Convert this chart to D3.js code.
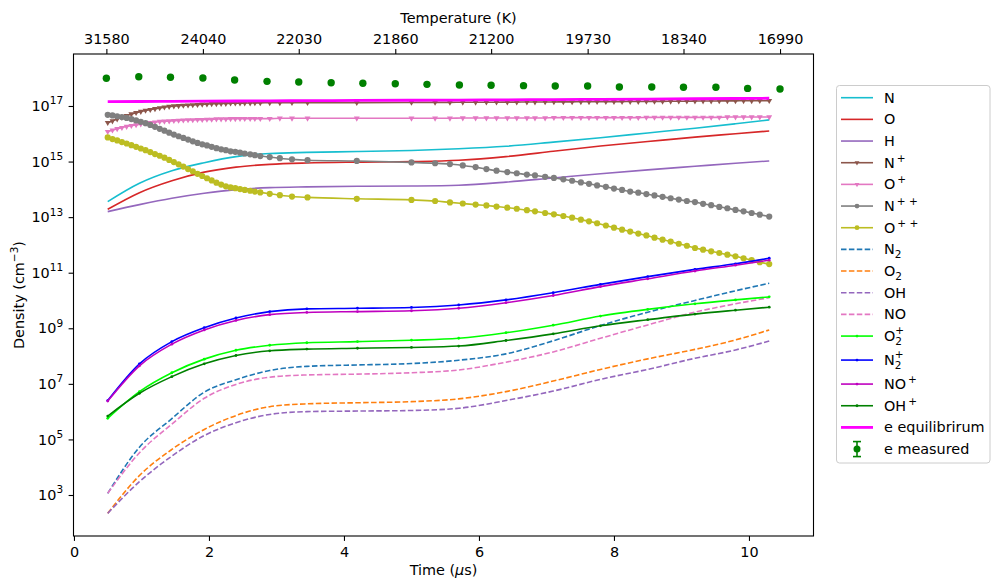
<!DOCTYPE html>
<html><head><meta charset="utf-8">
<script src="https://cdn.jsdelivr.net/npm/d3@7"></script>
<style>body{margin:0;background:#fff} svg text{font-family:"DejaVu Sans",sans-serif;fill:#000}</style>
</head><body><svg id="c" width="991" height="578"></svg>
<script>
// ---------------- DATA ----------------
const xTicks = [0, 2, 4, 6, 8, 10];
const yTickExponents = [3, 5, 7, 9, 11, 13, 15, 17];
const tempTickLabels = ["31580", "24040", "22030", "21860", "21200", "19730", "18340", "16990"];

// simulation output times (us), adaptive steps (marker positions)
const timeFine = [0.5,0.57,0.64,0.71,0.78,0.85,0.92,0.99,1.06,1.13,1.2,1.27,1.34,1.41,1.48,1.55,1.62,1.69,1.76,1.83,1.9,1.97,2.04,2.11,2.18,2.25,2.32,2.39,
  2.46,2.53,2.61,2.68,2.76,2.9,3.05,3.23,3.46,4.19,5.0,5.35,5.57,5.76,5.95,6.11,6.26,6.42,6.56,6.71,6.83,6.98,7.11,7.25,7.38,7.51,7.63,7.75,7.88,8.0,8.12,
  8.24,8.36,8.48,8.6,8.72,8.84,8.96,9.08,9.2,9.32,9.44,9.56,9.68,9.8,9.92,10.04,10.16,10.3];
// coarser readings of the other curves
const timeCoarse = [0.5,0.97,1.45,1.93,2.4,2.9,3.45,4.2,5.0,5.7,6.4,7.1,7.8,8.5,9.2,9.8,10.3];

const densNplus = [2.51e16,2.88e16,3.39e16,3.89e16,4.47e16,5.13e16,5.75e16,6.31e16,6.92e16,7.41e16,7.94e16,8.51e16,9.12e16,9.55e16,1.0e17,1.02e17,1.05e17,1.07e17,1.10e17,1.12e17,1.15e17,1.17e17,1.20e17,1.20e17,1.23e17,1.23e17,1.26e17,1.26e17,
  1.26e17,1.28e17,1.28e17,1.29e17,1.29e17,1.31e17,1.31e17,1.32e17,1.32e17,1.32e17,1.34e17,1.35e17,1.35e17,1.36e17,1.36e17,1.37e17,1.37e17,1.38e17,1.38e17,1.39e17,1.39e17,1.40e17,1.40e17,
  1.41e17,1.41e17,1.42e17,1.42e17,1.43e17,1.43e17,1.44e17,1.44e17,1.45e17,1.45e17,1.46e17,1.47e17,1.47e17,1.48e17,1.49e17,1.49e17,1.50e17,1.51e17,1.51e17,1.52e17,1.53e17,1.53e17,1.54e17,1.54e17,1.55e17,1.55e17];
const densOplus = [1.20e16,1.35e16,1.51e16,1.66e16,1.82e16,1.95e16,2.09e16,2.24e16,2.40e16,2.51e16,2.63e16,2.75e16,2.82e16,2.88e16,2.95e16,3.02e16,3.09e16,3.16e16,3.16e16,3.24e16,3.24e16,3.31e16,3.31e16,3.39e16,3.39e16,3.39e16,3.47e16,3.47e16,
  3.5e16,3.5e16,3.5e16,3.5e16,3.5e16,3.5e16,3.6e16,3.6e16,3.6e16,3.6e16,3.6e16,3.6e16,3.6e16,3.7e16,3.7e16,3.7e16,3.7e16,3.7e16,3.7e16,3.7e16,3.7e16,3.7e16,3.8e16,
  3.8e16,3.8e16,3.8e16,3.8e16,3.8e16,3.8e16,3.8e16,3.8e16,3.8e16,3.8e16,3.9e16,3.9e16,3.9e16,3.9e16,3.9e16,3.9e16,3.9e16,3.9e16,3.9e16,3.9e16,4.0e16,4.0e16,4.0e16,4.0e16,4.0e16,4.0e16];
const densNpp = [4.79e16,4.57e16,4.27e16,3.98e16,3.72e16,3.39e16,3.02e16,2.69e16,2.40e16,2.09e16,1.78e16,1.51e16,1.29e16,1.10e16,9.33e15,8.13e15,7.08e15,6.17e15,5.37e15,4.68e15,4.17e15,3.80e15,3.39e15,3.02e15,2.75e15,2.57e15,2.34e15,2.24e15,
  2.09e15,1.95e15,1.82e15,1.70e15,1.58e15,1.45e15,1.32e15,1.20e15,1.12e15,1.05e15,9.33e14,8.71e14,8.13e14,7.24e14,6.31e14,5.37e14,4.68e14,4.17e14,3.80e14,3.39e14,3.16e14,2.82e14,2.57e14,
  2.29e14,2.04e14,1.78e14,1.58e14,1.38e14,1.23e14,1.07e14,9.55e13,8.32e13,7.59e13,6.76e13,6.03e13,5.37e13,4.79e13,4.27e13,3.80e13,3.47e13,3.02e13,2.69e13,2.34e13,2.09e13,1.82e13,1.62e13,1.41e13,1.23e13,1.05e13];
const densOpp = [7.41e15,6.46e15,5.75e15,5.01e15,4.47e15,3.89e15,3.39e15,2.95e15,2.57e15,2.19e15,1.86e15,1.62e15,1.38e15,1.15e15,9.55e14,7.94e14,6.61e14,5.37e14,4.47e14,3.63e14,3.02e14,2.51e14,2.09e14,1.74e14,1.48e14,1.29e14,1.17e14,1.10e14,
  1.02e14,9.55e13,8.91e13,8.32e13,7.76e13,6.92e13,6.17e13,5.50e13,5.13e13,4.57e13,4.17e13,3.80e13,3.39e13,3.09e13,2.82e13,2.63e13,2.40e13,2.19e13,2.00e13,1.78e13,1.62e13,1.41e13,1.26e13,
  1.10e13,9.55e12,8.13e12,7.08e12,6.03e12,5.01e12,4.17e12,3.55e12,3.02e12,2.57e12,2.19e12,1.82e12,1.55e12,1.32e12,1.10e12,9.33e11,7.76e11,6.76e11,5.89e11,5.13e11,4.47e11,3.89e11,3.31e11,2.82e11,2.40e11,2.04e11];

const densN   = [3.63e13,1.66e14,4.68e14,9.12e14,1.51e15,1.95e15,2.14e15,2.29e15,2.51e15,2.88e15,3.55e15,5.01e15,7.24e15,1.07e16,1.58e16,2.29e16,3.16e16];
const densO   = [1.91e13,7.59e13,2.04e14,4.17e14,6.31e14,7.94e14,8.91e14,9.55e14,1.0e15,1.12e15,1.51e15,2.34e15,3.63e15,5.25e15,7.59e15,1.0e16,1.26e16];
const densH   = [1.58e13,2.82e13,4.79e13,7.24e13,9.77e13,1.15e14,1.23e14,1.29e14,1.32e14,1.41e14,1.82e14,2.57e14,3.63e14,5.01e14,6.76e14,8.71e14,1.05e15];
const densN2  = [1.15e3,5.25e4,5.62e5,5.01e6,1.41e7,3.02e7,4.27e7,4.79e7,5.37e7,7.08e7,1.20e8,3.55e8,1.26e9,3.80e9,1.0e10,2.24e10,4.17e10];
const densO2  = [2.19e2,5.01e3,4.37e4,2.29e5,7.24e5,1.51e6,1.91e6,2.09e6,2.29e6,2.88e6,5.25e6,1.26e7,3.31e7,7.94e7,1.74e8,3.80e8,8.71e8];
const densOH  = [2.19e2,3.02e3,2.51e4,1.38e5,3.98e5,7.94e5,1.0e6,1.05e6,1.10e6,1.32e6,2.51e6,5.50e6,1.45e7,3.31e7,8.32e7,1.66e8,3.47e8];
const densNO  = [1.15e3,3.31e4,3.55e5,3.02e6,9.55e6,1.74e7,2.09e7,2.24e7,2.51e7,3.16e7,6.03e7,1.41e8,4.37e8,1.32e9,3.80e9,7.59e9,1.26e10];
const densO2plus = [5.75e5,5.25e6,2.51e7,7.76e7,1.62e8,2.45e8,3.02e8,3.31e8,3.72e8,4.37e8,6.92e8,1.29e9,2.75e9,4.79e9,7.59e9,1.05e10,1.35e10];
const densN2plus = [2.51e6,5.25e7,3.31e8,1.05e9,2.34e9,3.98e9,5.01e9,5.25e9,5.62e9,6.92e9,1.05e10,1.91e10,3.80e10,7.24e10,1.32e11,2.09e11,3.31e11];
const densNOplus = [2.40e6,4.47e7,2.69e8,8.71e8,1.91e9,3.09e9,3.72e9,3.98e9,4.27e9,5.25e9,8.32e9,1.51e10,3.16e10,6.03e10,1.15e11,1.86e11,2.82e11];
const densOHplus = [6.92e5,4.57e6,1.82e7,5.25e7,1.05e8,1.55e8,1.78e8,1.91e8,2.04e8,2.29e8,3.63e8,6.31e8,1.23e9,2.04e9,3.24e9,4.47e9,5.75e9];
const densEeq = [1.43e17,1.45e17,1.47e17,1.49e17,1.51e17,1.53e17,1.55e17,1.58e17,1.61e17,1.63e17,1.67e17,1.70e17,1.74e17,1.78e17,1.82e17,1.86e17,1.9e17];

const measuredTime = [0.48,0.96,1.43,1.91,2.38,2.86,3.33,3.81,4.28,4.76,5.23,5.71,6.18,6.66,7.13,7.61,8.08,8.56,9.03,9.51,9.98,10.46];
const measuredDensity = [9.9e17,1.13e18,1.08e18,1.02e18,8.6e17,7.7e17,7.3e17,6.9e17,6.6e17,6.3e17,6.0e17,5.7e17,5.6e17,5.4e17,5.25e17,5.25e17,4.8e17,4.8e17,4.7e17,4.7e17,4.3e17,4.1e17];
const tempTickTimes = measuredTime.filter((d, i) => i % 3 === 0);

// ---------------- SERIES STYLES ----------------
const series = [
  {label:{base:"N"},                 t:timeCoarse, v:densN,  color:"#17becf"},
  {label:{base:"O"},                 t:timeCoarse, v:densO,  color:"#d62728"},
  {label:{base:"H"},                 t:timeCoarse, v:densH,  color:"#9467bd"},
  {label:{base:"N", sup:"+"},        t:timeFine, v:densNplus, color:"#8c564b", marker:"tri"},
  {label:{base:"O", sup:"+"},        t:timeFine, v:densOplus, color:"#e377c2", marker:"tri"},
  {label:{base:"N", sup:"+ +"},      t:timeFine, v:densNpp,  color:"#7f7f7f", marker:"circle"},
  {label:{base:"O", sup:"+ +"},      t:timeFine, v:densOpp,  color:"#bcbd22", marker:"circle"},
  {label:{base:"N", sub:"2"},        t:timeCoarse, v:densN2, color:"#1f77b4", dash:"5.5,2.4"},
  {label:{base:"O", sub:"2"},        t:timeCoarse, v:densO2, color:"#ff7f0e", dash:"5.5,2.4"},
  {label:{base:"OH"},                t:timeCoarse, v:densOH, color:"#9467bd", dash:"5.5,2.4"},
  {label:{base:"NO"},                t:timeCoarse, v:densNO, color:"#e377c2", dash:"5.5,2.4"},
  {label:{base:"O", sub:"2", sup:"+"}, t:timeCoarse, v:densO2plus, color:"#00ff00", marker:"dot"},
  {label:{base:"N", sub:"2", sup:"+"}, t:timeCoarse, v:densN2plus, color:"#0000ff", marker:"dot"},
  {label:{base:"NO", sup:"+"},       t:timeCoarse, v:densNOplus, color:"#bf00bf", marker:"dot"},
  {label:{base:"OH", sup:"+"},       t:timeCoarse, v:densOHplus, color:"#008000", marker:"dot"},
  {label:{base:"e equilibrirum"},    t:timeCoarse, v:densEeq, color:"#ff00ff", lw:2.8}
];

// ---------------- LAYOUT ----------------
const svg = d3.select("#c");
const X0 = 73.5, X1 = 813.5, Y0 = 54, Y1 = 536;
const FS = 14.4;
const x = d3.scaleLinear().domain([-0.007, 10.956]).range([X0, X1]);
const y = d3.scaleLog().domain([Math.pow(10, 1.5245), Math.pow(10, 18.871)]).range([Y1, Y0]);

svg.append("rect").attr("width", 991).attr("height", 578).attr("fill", "#fff");
svg.append("defs").append("clipPath").attr("id", "clip")
  .append("rect").attr("x", X0).attr("y", Y0).attr("width", X1 - X0).attr("height", Y1 - Y0);
const plot = svg.append("g").attr("clip-path", "url(#clip)");

const line = d3.line().curve(d3.curveMonotoneX);
const triPath = d3.symbol().type(d3.symbolTriangle).size(15)();

series.forEach(s => {
  const pts = s.t.map((t, i) => [x(t), y(s.v[i])]);
  plot.append("path").attr("d", line(pts)).attr("fill", "none")
    .attr("stroke", s.color).attr("stroke-width", s.lw || 1.6)
    .attr("stroke-dasharray", s.dash || null);
  if (s.marker === "circle") {
    plot.append("g").selectAll("circle").data(pts).join("circle")
      .attr("cx", d => d[0]).attr("cy", d => d[1]).attr("r", 3.1).attr("fill", s.color);
  } else if (s.marker === "tri") {
    plot.append("g").selectAll("path").data(pts).join("path")
      .attr("d", triPath).attr("transform", d => `translate(${d[0]},${d[1]}) rotate(180)`)
      .attr("fill", s.color);
  } else if (s.marker === "dot") {
    plot.append("g").selectAll("circle").data(pts).join("circle")
      .attr("cx", d => d[0]).attr("cy", d => d[1]).attr("r", 1.4).attr("fill", s.color);
  }
});

// measured electrons
plot.append("g").selectAll("circle").data(measuredTime).join("circle")
  .attr("cx", d => x(d)).attr("cy", (d, i) => y(measuredDensity[i])).attr("r", 3.7).attr("fill", "#008000");

// ---------------- AXES ----------------
function styleAxis(g) {
  g.select(".domain").remove();
  g.attr("font-family", null).attr("font-size", null);
  g.selectAll(".tick line").attr("stroke", "#000").attr("stroke-width", 1.1);
  g.selectAll(".tick text").attr("font-size", FS).attr("fill", "#000");
}
const gx = svg.append("g").attr("transform", `translate(0,${Y1})`)
  .call(d3.axisBottom(x).tickValues(xTicks).tickFormat(d3.format("d")).tickSize(4.9).tickPadding(5.5).tickSizeOuter(0));
styleAxis(gx);

const gt = svg.append("g").attr("transform", `translate(0,${Y0})`)
  .call(d3.axisTop(x).tickValues(tempTickTimes).tickFormat((d, i) => tempTickLabels[i]).tickSize(4.9).tickPadding(5.5).tickSizeOuter(0));
styleAxis(gt);

const gy = svg.append("g").attr("transform", `translate(${X0},0)`)
  .call(d3.axisLeft(y).tickValues(yTickExponents.map(e => Math.pow(10, e))).tickFormat(() => "").tickSize(4.9).tickPadding(5.5).tickSizeOuter(0));
styleAxis(gy);
gy.selectAll(".tick text").each(function(d) {
  const t = d3.select(this);
  t.text(null);
  t.append("tspan").text("10");
  t.append("tspan").attr("dy", -6.7).attr("font-size", 10.5).text(Math.round(Math.log10(d)));
});

// frame
svg.append("rect").attr("x", X0).attr("y", Y0).attr("width", X1 - X0).attr("height", Y1 - Y0)
  .attr("fill", "none").attr("stroke", "#000").attr("stroke-width", 1.1);

// axis titles
const xt = svg.append("text").attr("x", (X0 + X1) / 2).attr("y", 575).attr("text-anchor", "middle").attr("font-size", FS);
xt.append("tspan").text("Time (");
xt.append("tspan").attr("font-style", "italic").text("\u03bc");
xt.append("tspan").text("s)");

svg.append("text").attr("x", 458.5).attr("y", 23.3).attr("text-anchor", "middle").attr("font-size", FS).text("Temperature (K)");

const yt = svg.append("text").attr("transform", `translate(24,${(Y0 + Y1) / 2}) rotate(-90)`)
  .attr("text-anchor", "middle").attr("font-size", FS);
yt.append("tspan").text("Density (cm");
yt.append("tspan").attr("dy", -6).attr("font-size", 10.5).text("\u22123");
yt.append("tspan").attr("dy", 6).text(")");

// ---------------- LEGEND ----------------
const leg = svg.append("g");
leg.append("rect").attr("x", 836.5).attr("y", 85.5).attr("width", 153.5).attr("height", 377.5).attr("rx", 3)
  .attr("fill", "#fff").attr("fill-opacity", 0.8).attr("stroke", "#cccccc").attr("stroke-width", 1);

function addLabel(lab, lx, ly) {
  const t = leg.append("text").attr("x", lx).attr("y", ly).attr("font-size", FS);
  t.append("tspan").text(lab.base);
  if (lab.sub && lab.sup) {
    t.append("tspan").attr("font-size", 10.5).attr("dy", 3.5).text(lab.sub);
    t.append("tspan").attr("font-size", 10.5).attr("dx", -6.7).attr("dy", -10.5).text(lab.sup);
  } else if (lab.sub) {
    t.append("tspan").attr("font-size", 10.5).attr("dy", 3.5).text(lab.sub);
  } else if (lab.sup) {
    t.append("tspan").attr("font-size", 10.5).attr("dx", 2).attr("dy", -6.2).text(lab.sup);
  }
}

const legItems = series.map(s => s).concat([{label:{base:"e measured"}, errorbar:true, color:"#008000"}]);
let ly = 97.7;
legItems.forEach((it, i) => {
  if (i > 0) {
    const prev = legItems[i - 1].label;
    ly += 21.67 + (prev.sub && prev.sup ? 2.33 : 0);
  }
  if (it.errorbar) {
    leg.append("line").attr("x1", 857).attr("x2", 857).attr("y1", ly - 7.5).attr("y2", ly + 7.5).attr("stroke", it.color).attr("stroke-width", 1.6);
    [ly - 7.5, ly + 7.5].forEach(cy => leg.append("line").attr("x1", 853).attr("x2", 861).attr("y1", cy).attr("y2", cy).attr("stroke", it.color).attr("stroke-width", 1.6));
    leg.append("circle").attr("cx", 857).attr("cy", ly).attr("r", 3.5).attr("fill", it.color);
  } else {
    leg.append("line").attr("x1", 841).attr("x2", 873).attr("y1", ly).attr("y2", ly)
      .attr("stroke", it.color).attr("stroke-width", it.lw || 1.6).attr("stroke-dasharray", it.dash || null);
    if (it.marker === "circle") leg.append("circle").attr("cx", 857).attr("cy", ly).attr("r", 2.4).attr("fill", it.color);
    else if (it.marker === "tri") leg.append("path").attr("d", d3.symbol().type(d3.symbolTriangle).size(10)()).attr("transform", `translate(857,${ly}) rotate(180)`).attr("fill", it.color);
    else if (it.marker === "dot") leg.append("circle").attr("cx", 857).attr("cy", ly).attr("r", 1.4).attr("fill", it.color);
  }
  addLabel(it.label, 884, ly + 5);
});
</script></body></html>
